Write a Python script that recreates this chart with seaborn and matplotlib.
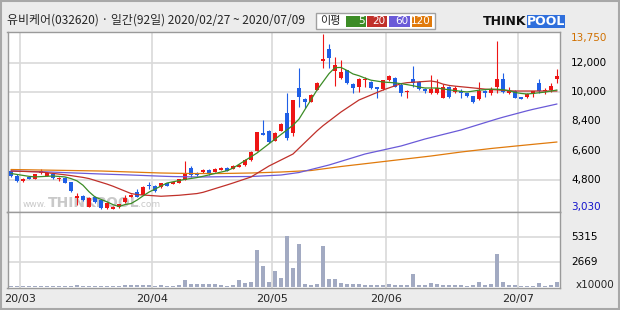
import numpy as np
import pandas as pd
import matplotlib
matplotlib.use("Agg")
import matplotlib.pyplot as plt
import matplotlib.transforms as mtransforms
from matplotlib.patches import Rectangle
import seaborn as sns

# ---------------- data ----------------
title_text = "유비케어(032620) · 일간(92일) 2020/02/27 ~ 2020/07/09"
ma_legend_title = "이평"
ma_periods = ["5", "20", "60", "120"]
month_labels = ["20/03", "20/04", "20/05", "20/06", "20/07"]
month_start_idx = [2, 24, 44, 63, 85]
price_max = 13750
price_min = 3030
price_tick_labels = ["13,750", "12,000", "10,000", "8,400", "6,600", "4,800", "3,030"]
vol_tick_values = [5315, 2669]
vol_tick_labels = ["5315", "2669"]
vol_unit = "x10000"

opens = [5360, 5050, 4760, 4970, 4880, 5250, 5070, 5170, 4890, 4950,
         4680, 3700, 3830, 3170, 3740, 3580, 3100, 3050, 3140, 3440,
         3790, 4050, 3890, 4480, 4440, 4360, 4600, 4560, 4640, 4800,
         5520, 5250, 5300, 5420, 5300, 5420, 5540, 5480, 5600, 5700,
         6030, 6580, 7700, 7800, 7200, 7800, 8900, 7680, 10440, 9770,
         9590, 10320, 12100, 12830, 11480, 11050, 11540, 10690, 10500, 10960,
         10810, 10500, 10380, 10930, 11050, 10620, 10170, 10990, 10810, 10380,
         10130, 10130, 9830, 10500, 10200, 10260, 10130, 9950, 9770, 10260,
         10130, 10500, 11000, 10130, 10260, 9890, 9890, 10070, 10750, 10260,
         10320, 10990]
highs = [5420, 5170, 4900, 5000, 5200, 5450, 5300, 5200, 4960, 4990,
         4700, 4000, 3900, 3780, 3800, 3600, 3450, 3200, 3350, 3900,
         3950, 4250, 4450, 4700, 4470, 4630, 4650, 4700, 4880, 5970,
         5650, 5300, 5450, 5460, 5520, 5580, 5580, 5700, 5760, 6080,
         6560, 7760, 8480, 7850, 7720, 8280, 10130, 9720, 11670, 9800,
         10050, 10780, 13750, 13140, 12340, 12150, 11560, 10720, 11050, 11120,
         10850, 10530, 10960, 11250, 11100, 10750, 10320, 11790, 10850, 10450,
         11240, 11000, 10690, 10560, 10560, 10380, 10150, 9980, 10810, 10320,
         10500, 13320, 11360, 10500, 10300, 9920, 10120, 10270, 11020, 10440,
         10750, 11600]
lows = [5020, 4680, 4700, 4850, 4850, 5200, 5040, 4880, 4720, 4620,
        4100, 3300, 3550, 3150, 3420, 3030, 3050, 3040, 3120, 3420,
        3760, 3770, 3870, 4280, 4100, 4330, 4440, 4540, 4620, 4780,
        5000, 5060, 5250, 5140, 5270, 5400, 5330, 5460, 5580, 5680,
        6000, 6560, 7540, 7100, 7180, 7780, 7250, 7500, 9280, 9220,
        9570, 10300, 11670, 11670, 10560, 11000, 10700, 10130, 10200, 10500,
        10400, 9830, 10350, 10900, 10480, 9950, 9830, 10500, 10350, 10130,
        10100, 10100, 9820, 9830, 10150, 9830, 9900, 9500, 9700, 9900,
        10000, 10130, 10150, 10070, 9800, 9750, 9850, 9900, 10150, 10070,
        10200, 10750]
closes = [5050, 4750, 4870, 4870, 5170, 5350, 5250, 4910, 4910, 4640,
          4130, 3830, 3580, 3720, 3440, 3100, 3400, 3170, 3320, 3720,
          3890, 3790, 4400, 4420, 4150, 4600, 4460, 4660, 4850, 5250,
          5110, 5090, 5400, 5170, 5480, 5540, 5360, 5660, 5720, 6030,
          6520, 7740, 7560, 7150, 7680, 8240, 7380, 9700, 9890, 9590,
          10010, 10750, 12200, 12280, 11850, 11420, 10750, 10440, 11000, 11000,
          10440, 10380, 10930, 11180, 10500, 10130, 10230, 10750, 10380, 10260,
          10380, 10440, 10500, 9890, 10440, 10130, 9950, 9580, 10260, 10130,
          10380, 11000, 10200, 10260, 9830, 9770, 10070, 10260, 10260, 10320,
          10560, 11180]
volumes = [100, 100, 100, 100, 100, 100, 100, 100, 100, 100,
           100, 200, 100, 100, 100, 100, 100, 100, 100, 200,
           200, 200, 200, 200, 100, 200, 100, 100, 200, 700,
           320, 320, 320, 320, 320, 200, 100, 200, 700, 430,
           530, 3930, 2230, 530, 1700, 960, 5420, 2020, 4570, 320,
           200, 320, 4360, 850, 850, 430, 320, 320, 320, 200,
           200, 200, 200, 320, 200, 200, 200, 1380, 200, 200,
           430, 320, 200, 200, 200, 200, 100, 200, 530, 200,
           320, 3510, 530, 200, 200, 100, 100, 100, 430, 100,
           200, 530]
ma5 = [5204, 5146, 5088, 5030, 4996, 5014, 5033, 5051, 5025, 4995,
       4893, 4754, 4485, 4088, 3766, 3619, 3471, 3296, 3181, 3304,
       3362, 3576, 3831, 4066, 4251, 4436, 4622, 4696, 4770, 4845,
       4900, 4956, 5033, 5119, 5205, 5291, 5376, 5534, 5765, 5997,
       6228, 6460, 6743, 7027, 7310, 7594, 7877, 8161, 8537, 9131,
       9725, 10319, 10820, 11322, 11690, 11700, 11517, 11302, 11194, 11048,
       10921, 10865, 10809, 10782, 10755, 10707, 10650, 10584, 10500, 10442,
       10442, 10442, 10386, 10330, 10284, 10240, 10197, 10252, 10308, 10340,
       10375, 10364, 10338, 10285, 10170, 10110, 10074, 10110, 10150, 10190,
       10255, 10319]
ma20 = [5357, 5345, 5333, 5321, 5308, 5296, 5253, 5210, 5167, 5124,
        5074, 5020, 4966, 4895, 4782, 4669, 4556, 4425, 4276, 4127,
        3978, 3914, 3888, 3862, 3836, 3810, 3830, 3851, 3871, 3906,
        3941, 3976, 4051, 4164, 4278, 4391, 4504, 4622, 4745, 4868,
        4990, 5215, 5439, 5664, 5848, 6032, 6215, 6399, 6753, 7107,
        7461, 7815, 8132, 8412, 8692, 8972, 9217, 9462, 9707, 9860,
        10013, 10166, 10319, 10449, 10579, 10709, 10768, 10794, 10820, 10845,
        10871, 10810, 10680, 10600, 10556, 10520, 10485, 10448, 10411, 10374,
        10347, 10323, 10299, 10275, 10258, 10258, 10258, 10258, 10258, 10258,
        10258, 10258]
ma60 = [5357, 5348, 5338, 5329, 5320, 5310, 5301, 5289, 5274, 5260,
        5245, 5231, 5217, 5202, 5188, 5174, 5162, 5149, 5137, 5125,
        5112, 5098, 5084, 5069, 5055, 5041, 5027, 5017, 5011, 5005,
        4999, 4993, 4992, 4997, 5001, 5006, 5010, 5013, 5016, 5018,
        5020, 5038, 5057, 5075, 5094, 5112, 5163, 5214, 5265, 5357,
        5449, 5541, 5633, 5725, 5837, 5950, 6062, 6174, 6287, 6399,
        6481, 6563, 6644, 6726, 6808, 6889, 6996, 7104, 7211, 7318,
        7410, 7502, 7594, 7685, 7777, 7869, 7982, 8095, 8208, 8321,
        8434, 8547, 8653, 8751, 8849, 8947, 9045, 9135, 9217, 9298,
        9380, 9462]
ma120 = [5449, 5443, 5437, 5431, 5424, 5418, 5412, 5406, 5400, 5394,
         5388, 5382, 5376, 5369, 5363, 5357, 5345, 5333, 5320, 5308,
         5296, 5284, 5271, 5259, 5247, 5235, 5229, 5223, 5216, 5210,
         5204, 5204, 5204, 5204, 5204, 5204, 5210, 5216, 5223, 5229,
         5235, 5247, 5259, 5271, 5284, 5296, 5314, 5333, 5351, 5369,
         5388, 5437, 5486, 5535, 5584, 5633, 5676, 5719, 5761, 5804,
         5847, 5890, 5933, 5976, 6019, 6062, 6105, 6147, 6190, 6233,
         6276, 6325, 6374, 6423, 6472, 6521, 6564, 6607, 6650, 6693,
         6736, 6773, 6809, 6846, 6883, 6919, 6955, 6991, 7027, 7062,
         7098, 7134]

# ---------------- style ----------------
sns.set_style("white")
plt.rcParams["font.family"] = ["DejaVu Sans"]
KFONT = ["Noto Sans CJK KR", "DejaVu Sans"]

RED = "#ee1515"
BLUE = "#1f5fe6"
MA_COLORS = ["#3c8c26", "#c0302a", "#6a5ad8", "#e07a0c"]
GRID = "#d9d9d9"
FRAME = "#9a9a9a"
BG = "#ececec"

W, H = 620, 310
def fx(px):
    return px / W
def fy(py):
    return 1 - py / H

fig = plt.figure(figsize=(6.2, 3.1), dpi=100, facecolor=BG)

ax_p = fig.add_axes([fx(7.5), fy(212), fx(560) - fx(7.5), fy(32) - fy(212)])
ax_v = fig.add_axes([fx(7.5), fy(288), fx(560) - fx(7.5), fy(212) - fy(288)])

df = pd.DataFrame({"day": np.arange(len(closes)), "open": opens, "high": highs,
                   "low": lows, "close": closes, "vol": volumes,
                   "ma5": ma5, "ma20": ma20, "ma60": ma60, "ma120": ma120})

n = len(df)
xmin, xmax = -0.583, n - 0.5
ymin_p = price_min - (price_max - price_min) / 175 * 3
ymax_p = price_max + (price_max - price_min) / 175 * 2

# ---- price panel ----
ax_p.set_facecolor("white")
step = (price_max - price_min) / 6
grid_vals = [price_max - k * step for k in range(1, 6)]
for v in grid_vals:
    ax_p.axhline(v, color=GRID, lw=1.2, zorder=0)
for m in month_start_idx:
    ax_p.axvline(m - 0.5, color=GRID, lw=1.2, zorder=0)
    ax_v.axvline(m - 0.5, color=GRID, lw=1.2, zorder=0)

# watermark
wm_col = "#c9c9c9"
ax_p.text(fx(47), fy(204.5), "www.", transform=fig.transFigure, fontsize=6.5,
          color=wm_col, va="center", ha="right", zorder=0.5)
ax_p.text(fx(48), fy(203), "THINKPOOL", transform=fig.transFigure, fontsize=10,
          fontweight="bold", color=wm_col, va="center", ha="left", zorder=0.5)
ax_p.text(fx(138), fy(204.5), ".com", transform=fig.transFigure, fontsize=6.5,
          color=wm_col, va="center", ha="left", zorder=0.5)

up = df["close"] >= df["open"]
cols = np.where(up, RED, BLUE)
body_lo = np.minimum(df["open"], df["close"])
body_h = np.abs(df["close"] - df["open"])
min_h = 60
body_lo = np.where(body_h < min_h, (df["open"] + df["close"]) / 2 - min_h / 2, body_lo)
body_h = np.maximum(body_h, min_h)
ax_p.vlines(df["day"], df["low"], df["high"], colors=cols, lw=0.8, zorder=2)
ax_p.bar(df["day"], body_h, bottom=body_lo, width=0.8, color=cols,
         linewidth=0, zorder=3)

for col, c in zip(["ma120", "ma60", "ma20", "ma5"], MA_COLORS[::-1]):
    sns.lineplot(data=df, x="day", y=col, ax=ax_p, color=c, lw=0.9,
                 legend=False, zorder=4)

ax_p.set_xlim(xmin, xmax)
ax_p.set_ylim(ymin_p, ymax_p)
ax_p.set_xticks([])
ax_p.set_yticks([])
ax_p.set_xlabel("")
ax_p.set_ylabel("")

trans_p = mtransforms.blended_transform_factory(ax_p.transAxes, ax_p.transData)
px_price = (price_max - price_min) / 175
label_vals = [price_max - k * step for k in range(7)]
label_vals[0] = price_max - 4 * px_price
label_vals[-1] = price_min + 2 * px_price
lab_colors = ["#d07000"] + ["black"] * 5 + ["#1414cc"]
xl = 1 + 11 / 552.5
for v, t, c in zip(label_vals, price_tick_labels, lab_colors):
    ax_p.text(xl, v, t, transform=trans_p, ha="left", va="center",
              fontsize=7.5, color=c, clip_on=False)

# ---- volume panel ----
ax_v.set_facecolor("white")
for v in vol_tick_values:
    ax_v.axhline(v, color=GRID, lw=1.2, zorder=0)
sns.barplot(data=df, x="day", y="vol", native_scale=True, ax=ax_v,
            color="#a2aac2", saturation=1, width=0.8, linewidth=0, zorder=2)
ax_v.set_xlim(xmin, xmax)
vpx = 5315 / 50
ax_v.set_ylim(-vpx, 75 * vpx)
ax_v.set_yticks([])
ax_v.set_xlabel("")
ax_v.set_ylabel("")
ax_v.set_xticks([m - 0.5 for m in month_start_idx])
ax_v.set_xticklabels(month_labels, fontsize=8)
ax_v.tick_params(axis="x", length=0, pad=4.5)

trans_v = mtransforms.blended_transform_factory(ax_v.transAxes, ax_v.transData)
for v, t in zip(vol_tick_values, vol_tick_labels):
    ax_v.text(xl, v, t, transform=trans_v, ha="left", va="center",
              fontsize=7.5, color="black", clip_on=False)
fig.text(fx(576), fy(285), vol_unit, fontsize=7.5, ha="left", va="center")

for ax in (ax_p, ax_v):
    for s in ax.spines.values():
        s.set_color(FRAME)
        s.set_linewidth(1.0)

# ---- header ----
fig.text(fx(7), fy(20), title_text, fontsize=8.6, family=KFONT,
         ha="left", va="center")

# MA legend box
fig.patches.append(Rectangle((fx(316), fy(29)), fx(435) - fx(316), fy(13) - fy(29),
                             transform=fig.transFigure, facecolor="white",
                             edgecolor="#a0a0a0", lw=1))
fig.text(fx(320), fy(21), ma_legend_title, fontsize=8, family=KFONT,
         ha="left", va="center")
box_x = [(346, 366), (367, 387), (389, 410), (412, 432)]
for (x0, x1), c, t in zip(box_x, MA_COLORS, ma_periods):
    fig.patches.append(Rectangle((fx(x0), fy(27)), fx(x1) - fx(x0), fy(16) - fy(27),
                                 transform=fig.transFigure, facecolor=c,
                                 edgecolor="none"))
    fig.text(fx(x1 - 1.5), fy(21.5), t, fontsize=7.5, color="white",
             ha="right", va="center")

# logo
fig.text(fx(483), fy(21.5), "THINK", fontsize=9, fontweight="bold",
         color="#111111", ha="left", va="center")
fig.patches.append(Rectangle((fx(527), fy(28)), fx(565) - fx(527), fy(15) - fy(28),
                             transform=fig.transFigure, facecolor="#2f6fdc",
                             edgecolor="none"))
fig.text(fx(546), fy(21.5), "POOL", fontsize=9, fontweight="bold",
         color="white", ha="center", va="center")

# outer frame
fig.patches.append(Rectangle((0.0015, 0.003), 0.997, 0.994, transform=fig.transFigure,
                             fill=False, edgecolor="#a8a8a8", lw=1.5))

fig.savefig("out.png", dpi=100, facecolor=BG)
